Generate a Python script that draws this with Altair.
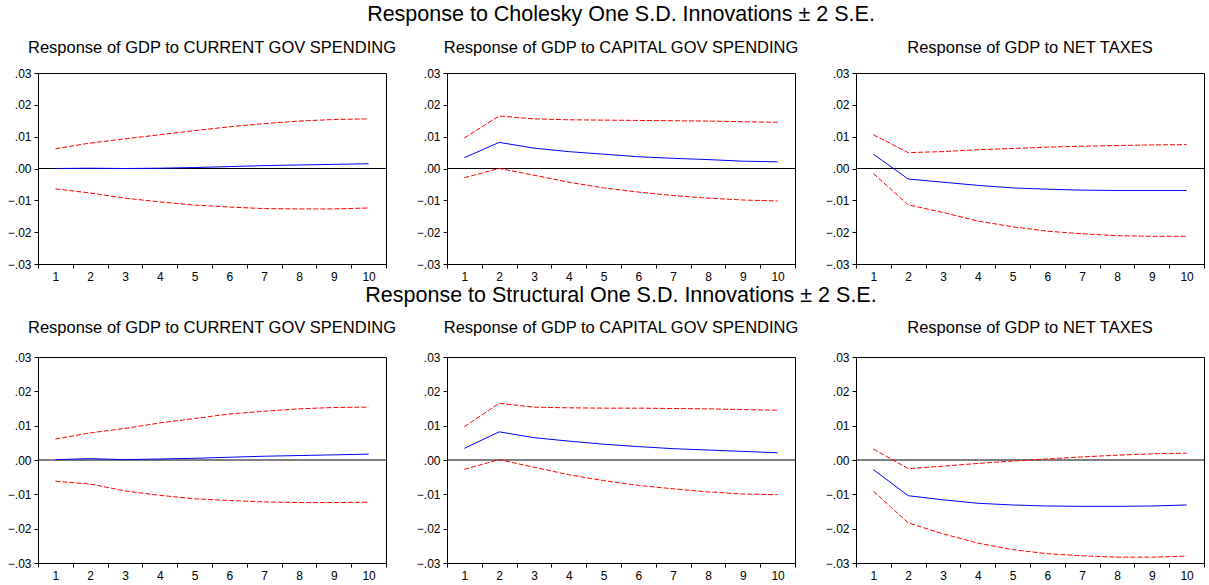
import altair as alt
import pandas as pd

periods = list(range(1, 11))

# Cholesky
chol_cur_resp = [0.0000, 0.0001, 0.0000, 0.0001, 0.0003, 0.0006, 0.0009, 0.0011, 0.0013, 0.0015]
chol_cur_up = [0.0062, 0.0080, 0.0093, 0.0106, 0.0119, 0.0131, 0.0141, 0.0149, 0.0154, 0.0156]
chol_cur_lo = [-0.0064, -0.0077, -0.0093, -0.0105, -0.0115, -0.0121, -0.0126, -0.0127, -0.0127, -0.0124]

chol_cap_resp = [0.0034, 0.0082, 0.0064, 0.0053, 0.0045, 0.0037, 0.0032, 0.0028, 0.0023, 0.0021]
chol_cap_up = [0.0096, 0.0165, 0.0156, 0.0153, 0.0152, 0.0151, 0.0150, 0.0149, 0.0147, 0.0145]
chol_cap_lo = [-0.0029, 0.0000, -0.0021, -0.0043, -0.0061, -0.0074, -0.0085, -0.0093, -0.0099, -0.0102]

chol_tax_resp = [0.0045, -0.0033, -0.0043, -0.0053, -0.0061, -0.0065, -0.0068, -0.0069, -0.0069, -0.0069]
chol_tax_up = [0.0106, 0.0050, 0.0053, 0.0059, 0.0063, 0.0067, 0.0070, 0.0072, 0.0074, 0.0075]
chol_tax_lo = [-0.0016, -0.0114, -0.0138, -0.0165, -0.0183, -0.0197, -0.0205, -0.0211, -0.0213, -0.0213]

# Structural
struct_cur_resp = [0.0001, 0.0004, 0.0001, 0.0003, 0.0005, 0.0008, 0.0011, 0.0013, 0.0015, 0.0017]
struct_cur_up = [0.0061, 0.0079, 0.0092, 0.0108, 0.0121, 0.0134, 0.0142, 0.0149, 0.0153, 0.0154]
struct_cur_lo = [-0.0062, -0.0070, -0.0090, -0.0103, -0.0113, -0.0118, -0.0122, -0.0124, -0.0124, -0.0123]

struct_cap_resp = [0.0034, 0.0082, 0.0065, 0.0055, 0.0046, 0.0039, 0.0033, 0.0029, 0.0025, 0.0021]
struct_cap_up = [0.0097, 0.0165, 0.0154, 0.0152, 0.0151, 0.0151, 0.0150, 0.0149, 0.0147, 0.0145]
struct_cap_lo = [-0.0027, 0.0001, -0.0021, -0.0043, -0.0060, -0.0074, -0.0084, -0.0093, -0.0099, -0.0101]

struct_tax_resp = [-0.0028, -0.0104, -0.0116, -0.0126, -0.0131, -0.0134, -0.0135, -0.0135, -0.0134, -0.0131]
struct_tax_up = [0.0032, -0.0025, -0.0018, -0.0010, -0.0003, 0.0003, 0.0009, 0.0014, 0.0018, 0.0020]
struct_tax_lo = [-0.0091, -0.0183, -0.0215, -0.0242, -0.0261, -0.0273, -0.0279, -0.0283, -0.0283, -0.0280]

row_titles = ["Response to Cholesky One S.D. Innovations \u00b1 2 S.E.",
              "Response to Structural One S.D. Innovations \u00b1 2 S.E."]
panel_titles = ["Response of GDP to CURRENT GOV SPENDING",
                "Response of GDP to CAPITAL GOV SPENDING",
                "Response of GDP to NET TAXES"]
y_ticks = [-0.03, -0.02, -0.01, 0.0, 0.01, 0.02, 0.03]
zero_level = [0.0]

FONT = "Liberation Sans"
ROW_H = [191, 206]
ROW_OFFSET = [11, 15]
ROW_SUBPAD = [14, 13]


def panel(resp, up, lo, title_main, title_sub, height, offset, subpad):
    df = pd.DataFrame({
        "period": periods * 3,
        "value": resp + up + lo,
        "series": ["resp"] * 10 + ["up"] * 10 + ["lo"] * 10,
    })
    zero_df = pd.DataFrame({"value": zero_level})
    x = alt.X("period:O",
              scale=alt.Scale(type="band", paddingInner=0, paddingOuter=0),
              axis=alt.Axis(title=None, labelAngle=0, tickBand="extent", tickSize=4,
                            labelPadding=3, labelFontSize=12))
    y = alt.Y("value:Q",
              scale=alt.Scale(domain=[-0.03, 0.03], nice=False, zero=False),
              axis=alt.Axis(title=None, values=y_ticks, tickSize=4, labelPadding=3,
                            labelFontSize=12,
                            labelExpr="replace(format(datum.value, '.2f'), '0.', '.')"))
    base = alt.Chart(df).encode(x=x, y=y)
    zero = alt.Chart(zero_df).mark_rule(color="black", strokeWidth=1).encode(y=y)
    red = base.transform_filter("datum.series != 'resp'").mark_line(
        color="#ff0000", strokeWidth=1, strokeDash=[5, 2]).encode(detail="series:N")
    blue = base.transform_filter("datum.series == 'resp'").mark_line(
        color="#0000ff", strokeWidth=1)
    return alt.layer(zero, red, blue).properties(
        width=348, height=height,
        title=alt.TitleParams(
            text=title_main, subtitle=title_sub, font=FONT, subtitleFont=FONT,
            fontSize=21.5, subtitleFontSize=16.5, fontWeight="normal",
            color="black", subtitleColor="black", anchor="middle", frame="group",
            offset=offset, subtitlePadding=subpad))


sets = [
    [(chol_cur_resp, chol_cur_up, chol_cur_lo),
     (chol_cap_resp, chol_cap_up, chol_cap_lo),
     (chol_tax_resp, chol_tax_up, chol_tax_lo)],
    [(struct_cur_resp, struct_cur_up, struct_cur_lo),
     (struct_cap_resp, struct_cap_up, struct_cap_lo),
     (struct_tax_resp, struct_tax_up, struct_tax_lo)],
]

charts = []
for r in range(2):
    for c in range(3):
        resp, up, lo = sets[r][c]
        main = row_titles[r] if c == 1 else " "
        charts.append(panel(resp, up, lo, main, panel_titles[c], ROW_H[r],
                            ROW_OFFSET[r], ROW_SUBPAD[r]))

chart = alt.concat(*charts, columns=3, spacing={"row": 93, "column": 61}, bounds="flush").properties(
    padding={"left": 6, "top": 3, "right": 2, "bottom": 2},
    background="white"
).configure_view(
    stroke="black", strokeWidth=1
).configure_axis(
    labelFont=FONT, labelColor="black", tickColor="black", domainColor="black",
    grid=False, domainWidth=1, tickWidth=1
)

chart.save("out.html", embed_options={"renderer": "svg", "actions": False})
